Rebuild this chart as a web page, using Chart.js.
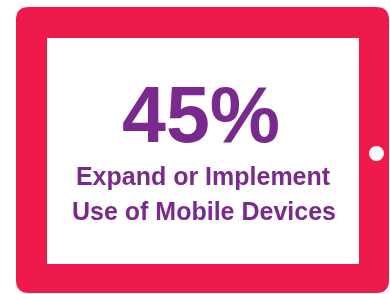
<!DOCTYPE html>
<html lang="en">
<head>
    <meta charset="UTF-8">
    <title>Mobile Devices</title>
    <script src="https://cdn.jsdelivr.net/npm/chart.js"></script>
    <style>
        body { margin: 0; background: #fff; }
    </style>
</head>
<body>
    <canvas id="tabletChart" width="390" height="294"></canvas>

    <script>
        // data
        const labels = ['Expand or Implement Use of Mobile Devices'];
        const percentValues = [45];
        const captionLines = ['Expand or Implement', 'Use of Mobile Devices'];

        const frameColor = '#ee1a4c';
        const textColor = '#7a2a8f';

        function roundRect(ctx, x, y, w, h, r) {
            ctx.beginPath();
            ctx.moveTo(x + r, y);
            ctx.lineTo(x + w - r, y);
            ctx.quadraticCurveTo(x + w, y, x + w, y + r);
            ctx.lineTo(x + w, y + h - r);
            ctx.quadraticCurveTo(x + w, y + h, x + w - r, y + h);
            ctx.lineTo(x + r, y + h);
            ctx.quadraticCurveTo(x, y + h, x, y + h - r);
            ctx.lineTo(x, y + r);
            ctx.quadraticCurveTo(x, y, x + r, y);
            ctx.closePath();
        }

        // draws the tablet frame behind everything and the figure on the screen
        const tabletPlugin = {
            id: 'tablet',
            beforeDraw(chart) {
                const ctx = chart.ctx;
                ctx.save();
                ctx.fillStyle = frameColor;
                roundRect(ctx, 16, 7, 373, 286, 13);
                ctx.fill();
                ctx.fillStyle = '#ffffff';
                ctx.fillRect(47, 38, 312, 226);
                ctx.beginPath();
                ctx.arc(376.5, 153.5, 7.5, 0, Math.PI * 2);
                ctx.fill();
                ctx.restore();
            },
            afterDraw(chart) {
                const ctx = chart.ctx;
                const value = chart.data.datasets[0].data[0];
                ctx.save();
                ctx.fillStyle = textColor;
                ctx.textAlign = 'center';
                ctx.textBaseline = 'alphabetic';
                ctx.font = 'bold 79px "Liberation Sans", Arial, sans-serif';
                ctx.fillText(value + '%', 201, 142);
                ctx.font = 'bold 25px "Liberation Sans", Arial, sans-serif';
                ctx.fillText(captionLines[0], 203, 185);
                ctx.fillText(captionLines[1], 204, 220);
                ctx.restore();
            }
        };

        new Chart(document.getElementById('tabletChart'), {
            type: 'bar',
            data: {
                labels: labels,
                datasets: [{
                    data: percentValues,
                    backgroundColor: 'rgba(0,0,0,0)'
                }]
            },
            options: {
                responsive: false,
                animation: false,
                plugins: {
                    legend: { display: false },
                    tooltip: { enabled: false }
                },
                scales: {
                    x: { display: false },
                    y: { display: false, min: 0, max: 100 }
                }
            },
            plugins: [tabletPlugin]
        });
    </script>
</body>
</html>
